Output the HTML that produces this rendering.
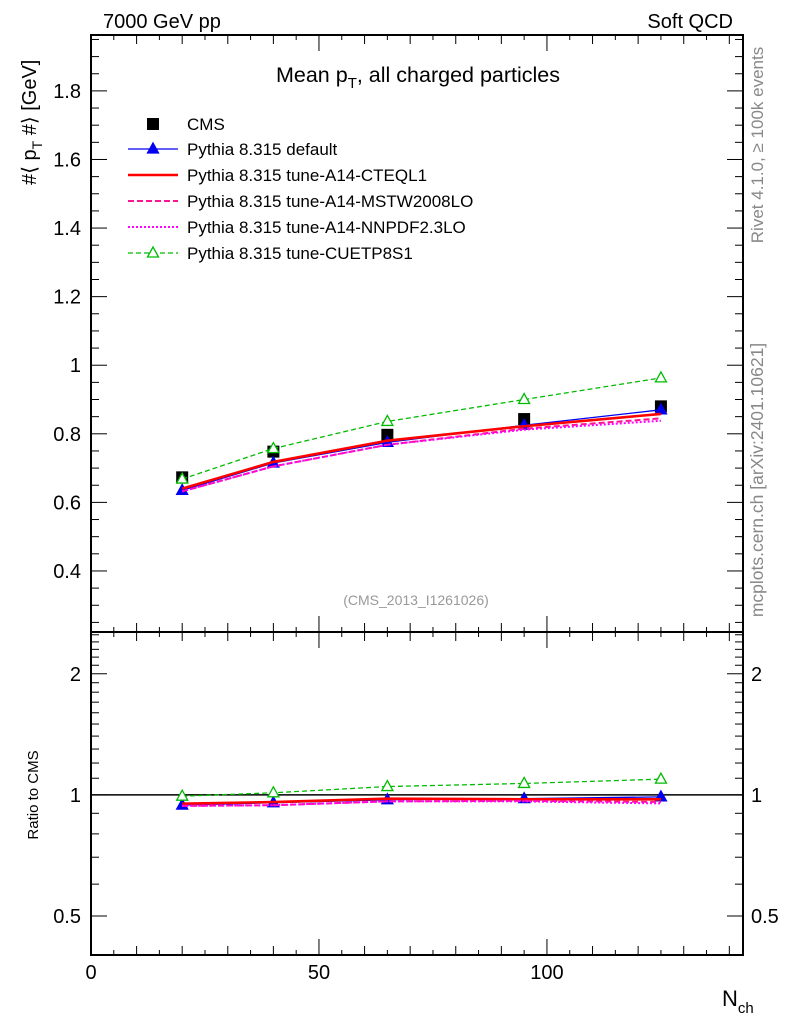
<!DOCTYPE html>
<html><head><meta charset="utf-8"><style>
body{margin:0;background:#fff;}
svg{display:block;font-family:"Liberation Sans",sans-serif;}
</style></head><body>
<svg id="chart" width="786" height="1024" viewBox="0 0 786 1024" xmlns="http://www.w3.org/2000/svg">
<text x="103" y="28" font-size="20">7000 GeV pp</text>
<text x="733" y="28" font-size="20" text-anchor="end">Soft QCD</text>
<text x="418" y="82" font-size="21.5" text-anchor="middle">Mean p<tspan dy="6" font-size="15">T</tspan><tspan dy="-6">, all charged particles</tspan></text>
<text transform="translate(36,185) rotate(-90)" font-size="20">#⟨ p<tspan dy="6" font-size="14">T</tspan><tspan dy="-6"> #⟩ [GeV]</tspan></text>
<text transform="translate(38,795) rotate(-90)" font-size="15" text-anchor="middle">Ratio to CMS</text>
<text transform="translate(763,145) rotate(-90)" font-size="17" fill="#888" text-anchor="middle">Rivet 4.1.0, ≥ 100k events</text>
<text transform="translate(763,480) rotate(-90)" font-size="17.5" fill="#888" text-anchor="middle">mcplots.cern.ch [arXiv:2401.10621]</text>
<text x="416" y="605" font-size="14" fill="#999" text-anchor="middle">(CMS_2013_I1261026)</text>
<text x="722" y="1006" font-size="22">N<tspan dy="7" font-size="15">ch</tspan></text>
<g id="axes"></g><g id="series"></g><g id="legend"></g>
</svg>
<script>
const xVals = [20, 40, 65, 95, 125];
const cms = [0.673, 0.748, 0.797, 0.843, 0.880];
const pyDefault = [0.635, 0.715, 0.775, 0.825, 0.870];
const pyCteq = [0.640, 0.718, 0.780, 0.822, 0.858];
const pyMstw = [0.632, 0.705, 0.768, 0.815, 0.845];
const pyNnpdf = [0.632, 0.705, 0.768, 0.812, 0.838];
const pyCuetp = [0.668, 0.757, 0.836, 0.900, 0.963];
const seriesNames = ["Pythia 8.315 default","Pythia 8.315 tune-A14-CTEQL1","Pythia 8.315 tune-A14-MSTW2008LO","Pythia 8.315 tune-A14-NNPDF2.3LO","Pythia 8.315 tune-CUETP8S1"];
const topTicks = [0.4,0.6,0.8,1,1.2,1.4,1.6,1.8];
const ratioTicks = [0.5,1,2];
const xTicks = [0,50,100];

const NS="http://www.w3.org/2000/svg";
const L=91,R=743,T=35,M=632,B=955;
const X0=0,X1=143, Y0=0.222,Y1=1.963, RL=Math.log(0.4),RH=Math.log(2.54);
const sx=v=>L+(v-X0)/(X1-X0)*(R-L);
const sy=v=>M-(v-Y0)/(Y1-Y0)*(M-T);
const sr=v=>B-(Math.log(v)-RL)/(RH-RL)*(B-M);
function mk(tag,attrs,parent){const e=document.createElementNS(NS,tag);for(const k in attrs)e.setAttribute(k,attrs[k]);parent.appendChild(e);return e;}
const ax=document.getElementById('axes'), sg=document.getElementById('series'), lg=document.getElementById('legend');
let f1=mk('rect',{x:L,y:T,width:R-L,height:M-T,fill:'none',stroke:'#000','stroke-width':2},ax);


let f2=mk('rect',{x:L,y:M,width:R-L,height:B-M,fill:'none',stroke:'#000','stroke-width':2},ax);


for(let v=0;v<=X1;v+=5){const len=v%50===0?16:(v%10===0?9:5);const x=sx(v);
 mk('line',{x1:x,y1:M,x2:x,y2:M-len,stroke:'#000'},ax);mk('line',{x1:x,y1:T,x2:x,y2:T+len,stroke:'#000'},ax);
 mk('line',{x1:x,y1:M,x2:x,y2:M+len,stroke:'#000'},ax);mk('line',{x1:x,y1:B,x2:x,y2:B-len,stroke:'#000'},ax);}
xTicks.forEach(v=>{const t=mk('text',{x:sx(v),y:B+24,'font-size':20,'text-anchor':'middle'},ax);t.textContent=v;
 
 });
for(let i=5;i<=39;i++){const v=i*0.05;if(v<Y0||v>Y1)continue;const len=(i%4===0)?16:8;const y=sy(v);
 mk('line',{x1:L,y1:y,x2:L+len,y2:y,stroke:'#000'},ax);mk('line',{x1:R,y1:y,x2:R-len,y2:y,stroke:'#000'},ax);}
topTicks.forEach(v=>{const t=mk('text',{x:L-10,y:sy(v)+7,'font-size':20,'text-anchor':'end'},ax);t.textContent=String(v);
 
 });
const rMinor=[0.4,0.5,0.6,0.7,0.8,0.9,1,1.1,1.2,1.3,1.4,1.5,1.6,1.7,1.8,1.9,2,2.1,2.2,2.3,2.4,2.5];
rMinor.forEach(v=>{const major=ratioTicks.includes(v);const len=major?16:8;const y=sr(v);
 mk('line',{x1:L,y1:y,x2:L+len,y2:y,stroke:'#000'},ax);mk('line',{x1:R,y1:y,x2:R-len,y2:y,stroke:'#000'},ax);});
ratioTicks.forEach(v=>{const y=sr(v);
 const a=mk('text',{x:L-10,y:y+7,'font-size':20,'text-anchor':'end'},ax);a.textContent=v;
 
 
 const b=mk('text',{x:R+8,y:y+7,'font-size':20},ax);b.textContent=v;
 
 });
mk('line',{x1:L,y1:sr(1),x2:R,y2:sr(1),stroke:'#000','stroke-width':1.5},ax);

const styles=[
 {data:pyDefault,color:'#0000ee',w:1.3,dash:'',marker:'tri-fill'},
 {data:pyCteq,color:'#ff0000',w:2.6,dash:'',marker:'none'},
 {data:pyMstw,color:'#ff1493',w:2,dash:'6,3',marker:'none'},
 {data:pyNnpdf,color:'#ff00ff',w:2,dash:'2,2',marker:'none'},
 {data:pyCuetp,color:'#00bb00',w:1.3,dash:'5,3',marker:'tri-open'}];
function tri(x,y,c,fill,parent){const p=mk('path',{d:`M${x},${y-6}L${x+5.5},${y+4}L${x-5.5},${y+4}Z`,fill:fill?c:'#fff',stroke:c,'stroke-width':1.3},parent);return p;}
function drawSeries(vals,st,sc,name){
 const pts=vals.map((v,i)=>sx(xVals[i])+','+sc(v)).join(' ');
 const pl=mk('polyline',{points:pts,fill:'none',stroke:st.color,'stroke-width':st.w,'stroke-dasharray':st.dash},sg);
 
 
 if(st.marker!=='none')vals.forEach((v,i)=>{const m=tri(sx(xVals[i]),sc(v),st.color,st.marker==='tri-fill',sg);
  
  });}
cms.forEach((v,i)=>{const r=mk('rect',{x:sx(xVals[i])-6,y:sy(v)-6,width:12,height:12,fill:'#000'},sg);
 
 });
const sNames=['default','cteql1','mstw2008lo','nnpdf23lo','cuetp8s1'];
styles.forEach((st,k)=>{drawSeries(st.data,st,sy,'line-'+sNames[k]);
 drawSeries(st.data.map((v,i)=>v/cms[i]),st,sr,'ratio-'+sNames[k]);});
const ly=[124,149,175,201,227,253];
const cm=mk('rect',{x:147,y:ly[0]-6,width:12,height:12,fill:'#000'},lg);


const ct=mk('text',{x:187,y:ly[0]+6,'font-size':17},lg);ct.textContent='CMS';


styles.forEach((st,k)=>{const y=ly[k+1];
 const l=mk('line',{x1:128,y1:y,x2:178,y2:y,stroke:st.color,'stroke-width':st.w,'stroke-dasharray':st.dash},lg);
 
 
 if(st.marker!=='none'){const m=tri(153,y,st.color,st.marker==='tri-fill',lg);
  
  }
 const t=mk('text',{x:187,y:y+6,'font-size':17},lg);t.textContent=seriesNames[k];
 
 });
</script>
</body></html>
